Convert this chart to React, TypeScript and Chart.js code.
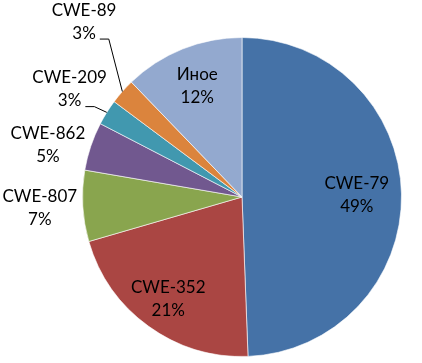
import React, { useEffect, useRef } from "react";
import { Chart, registerables } from "chart.js";

Chart.register(...registerables);

const categories = ["CWE-79", "CWE-352", "CWE-807", "CWE-862", "CWE-209", "CWE-89", "Иное"];
const shares = [49.4, 21.1, 7.2, 4.9, 2.6, 2.6, 12.2];
const sliceColors = ["#4572A7", "#AA4643", "#89A54E", "#71588F", "#4198AF", "#DB843D", "#93A9CF"];

// label layout (radius as fraction of pie radius, angular nudge in degrees, leader line)
const labelRadius = [0.72, 0.79, 1.27, 1.26, 1.275, 1.48, 0.75];
const labelNudge = [0, 0, 0, -3.5, 0, 6.6, 0];
const labelLeader = [false, false, false, false, true, true, false];

const FONT = '17px Lato, "DejaVu Sans", sans-serif';

const labelPlugin = {
  id: "pieLabels",
  afterDatasetsDraw(chart: any) {
    const ctx = chart.ctx as CanvasRenderingContext2D;
    const meta = chart.getDatasetMeta(0);
    const data = chart.data.datasets[0].data as number[];
    const total = data.reduce((a, b) => a + b, 0);
    ctx.save();
    ctx.font = FONT;
    ctx.fillStyle = "#000";
    ctx.textAlign = "center";
    ctx.textBaseline = "middle";
    meta.data.forEach((arc: any, i: number) => {
      const { x, y, startAngle, endAngle, outerRadius } = arc.getProps(
        ["x", "y", "startAngle", "endAngle", "outerRadius"],
        true
      );
      const mid = (startAngle + endAngle) / 2;
      const a = mid + (labelNudge[i] * Math.PI) / 180;
      const r = outerRadius * labelRadius[i];
      const lx = x + Math.cos(a) * r;
      const ly = y + Math.sin(a) * r;
      const pct = Math.round((data[i] / total) * 100) + "%";
      ctx.fillText(chart.data.labels[i], lx, ly - 11.5);
      ctx.fillText(pct, lx, ly + 11.5);
      if (labelLeader[i]) {
        const w = ctx.measureText(pct).width;
        const endX = lx + w / 2 + 4;
        const lineY = ly + 17.5;
        const elbowX = endX + 9;
        const ex = x + Math.cos(mid) * outerRadius;
        const ey = y + Math.sin(mid) * outerRadius;
        ctx.beginPath();
        ctx.strokeStyle = "#000";
        ctx.lineWidth = 1;
        ctx.moveTo(endX, lineY);
        ctx.lineTo(elbowX, lineY);
        ctx.lineTo(ex, ey);
        ctx.stroke();
      }
    });
    ctx.restore();
  },
};

export default function App() {
  const ref = useRef<HTMLCanvasElement>(null);
  useEffect(() => {
    if (!ref.current) return;
    const chart = new Chart(ref.current, {
      type: "pie",
      data: {
        labels: categories,
        datasets: [
          {
            data: shares,
            backgroundColor: sliceColors,
            borderColor: "rgba(255,255,255,0.6)",
            borderWidth: 1,
          },
        ],
      },
      options: {
        responsive: false,
        animation: false,
        layout: { padding: { left: 82, right: 20, top: 37, bottom: 6 } },
        plugins: {
          legend: { display: false },
          tooltip: { enabled: false },
        },
      },
      plugins: [labelPlugin],
    });
    return () => chart.destroy();
  }, []);
  return (
    <div style={{ position: "fixed", left: 0, top: 0, width: 422, height: 363, background: "#fff" }}>
      <canvas ref={ref} width={422} height={363} />
    </div>
  );
}
